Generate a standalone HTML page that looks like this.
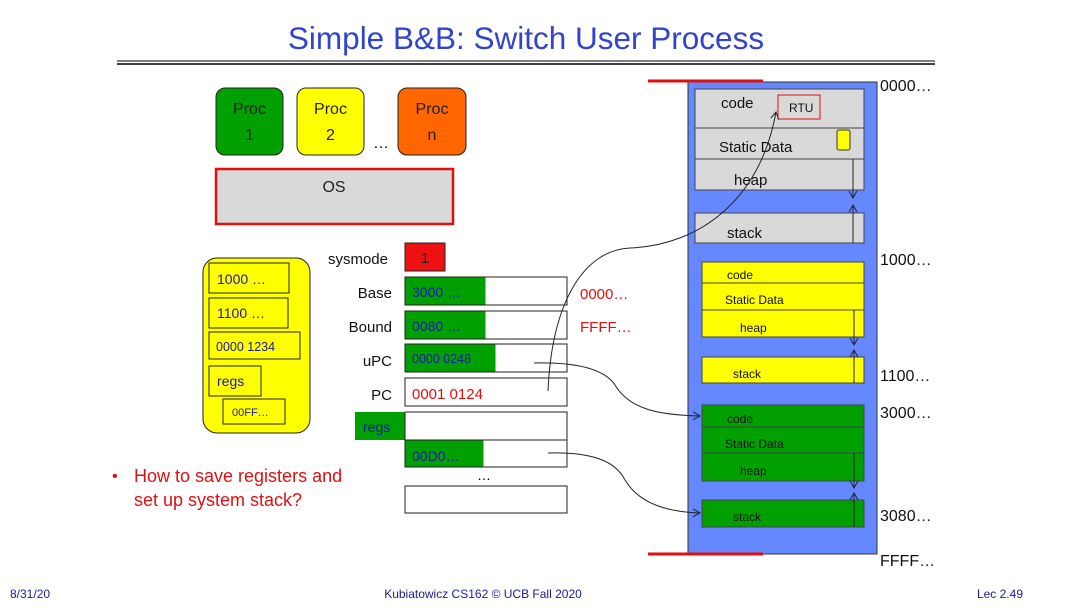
<!DOCTYPE html>
<html><head><meta charset="utf-8"><style>
html,body{margin:0;padding:0;background:#fff}
svg{display:block}
text{font-family:"Liberation Sans",sans-serif}
</style></head><body>
<svg width="1080" height="608" viewBox="0 0 1080 608" xmlns="http://www.w3.org/2000/svg">
<defs><marker id="ah" markerWidth="10" markerHeight="10" refX="8" refY="5" orient="auto" markerUnits="userSpaceOnUse"><path d="M1,1 L8,5 L1,9" fill="none" stroke="#223" stroke-width="1"/></marker></defs>
<text x="526" y="49" text-anchor="middle" font-size="31.5" fill="#3344cc">Simple B&amp;B: Switch User Process</text>
<line x1="117" y1="61" x2="935" y2="61" stroke="#000" stroke-width="1"/>
<line x1="117" y1="64" x2="935" y2="64" stroke="#000" stroke-width="1.5"/>
<rect x="216" y="88" width="67" height="67" rx="9" fill="#00a000" stroke="#222"/>
<text x="249.5" y="114" text-anchor="middle" font-size="16" fill="#222">Proc</text><text x="249.5" y="140" text-anchor="middle" font-size="16" fill="#222">1</text>
<rect x="297" y="88" width="67" height="67" rx="9" fill="#ffff00" stroke="#222"/>
<text x="330.5" y="114" text-anchor="middle" font-size="16" fill="#222">Proc</text><text x="330.5" y="140" text-anchor="middle" font-size="16" fill="#222">2</text>
<text x="381" y="148" text-anchor="middle" font-size="16">…</text>
<rect x="398" y="88" width="68" height="67" rx="9" fill="#ff6600" stroke="#222"/>
<text x="432" y="114" text-anchor="middle" font-size="16" fill="#222">Proc</text><text x="432" y="140" text-anchor="middle" font-size="16" fill="#222">n</text>
<rect x="216" y="169" width="237" height="55" fill="#d9d9d9" stroke="#e01010" stroke-width="2.5"/>
<text x="334" y="192" text-anchor="middle" font-size="16" fill="#222">OS</text>
<rect x="203" y="258" width="107" height="175" rx="14" fill="#ffff00" stroke="#222"/>
<g font-size="14" fill="#1a1a9a">
<rect x="209" y="263" width="80" height="30" fill="#ffff00" stroke="#222"/><text x="217" y="284">1000 …</text>
<rect x="209" y="298" width="79" height="30" fill="#ffff00" stroke="#222"/><text x="217" y="318">1100 …</text>
<rect x="209" y="332" width="91" height="27" fill="#ffff00" stroke="#222"/><text x="216" y="351" font-size="12.5">0000 1234</text>
<rect x="209" y="366" width="52" height="30" fill="#ffff00" stroke="#222"/><text x="217" y="386">regs</text>
<rect x="223" y="399" width="62" height="25" fill="#ffff00" stroke="#222"/><text x="232" y="416" font-size="11">00FF…</text>
</g>
<g font-size="15" fill="#111" text-anchor="end">
<text x="388" y="264">sysmode</text><text x="392" y="298">Base</text><text x="392" y="332">Bound</text><text x="392" y="366">uPC</text><text x="392" y="400">PC</text>
</g>
<rect x="405" y="243" width="40" height="28" fill="#ee1111" stroke="#222"/>
<text x="425" y="263" text-anchor="middle" font-size="15" fill="#222">1</text>
<rect x="405" y="277" width="162" height="28" fill="#fff" stroke="#222"/><rect x="405.5" y="277.5" width="80" height="27" fill="#00a000"/>
<text x="412" y="297" font-size="14" fill="#1a1aaa">3000 …</text>
<rect x="405" y="311" width="162" height="28" fill="#fff" stroke="#222"/><rect x="405.5" y="311.5" width="80" height="27" fill="#00a000"/>
<text x="412" y="331" font-size="14" fill="#1a1aaa">0080 …</text>
<rect x="405" y="344" width="162" height="28" fill="#fff" stroke="#222"/><rect x="405.5" y="344.5" width="90" height="27" fill="#00a000"/>
<text x="412" y="363" font-size="12.5" fill="#1a1aaa">0000 0248</text>
<rect x="405" y="378" width="162" height="28" fill="#fff" stroke="#222"/>
<text x="412" y="399" font-size="15" fill="#e01010">0001 0124</text>
<rect x="355" y="412" width="50" height="28" fill="#00a000"/>
<text x="363" y="432" font-size="14" fill="#1a1aaa">regs</text>
<rect x="405" y="412" width="162" height="28" fill="#fff" stroke="#222"/>
<rect x="405" y="440" width="162" height="27" fill="#fff" stroke="#222"/><rect x="405.5" y="440.5" width="78" height="26" fill="#00a000"/>
<text x="412" y="461" font-size="14" fill="#1a1aaa">00D0…</text>
<text x="484" y="480" text-anchor="middle" font-size="14">…</text>
<rect x="405" y="486" width="162" height="27" fill="#fff" stroke="#222"/>
<text x="580" y="299" font-size="15" fill="#e01010">0000…</text>
<text x="580" y="332" font-size="15" fill="#e01010">FFFF…</text>
<text x="112" y="481" font-size="16" fill="#e01010">•</text>
<text x="134" y="482" font-size="18" fill="#e01010">How to save registers and</text>
<text x="134" y="506" font-size="18" fill="#e01010">set up system stack?</text>
<rect x="688" y="82" width="189" height="472" fill="#6688ff" stroke="#333"/>
<line x1="648" y1="81" x2="763" y2="81" stroke="#e01010" stroke-width="3"/>
<line x1="648" y1="554" x2="763" y2="554" stroke="#e01010" stroke-width="3"/>
<g stroke="#444" fill="#d9d9d9">
<rect x="695" y="89" width="169" height="39"/><rect x="695" y="128" width="169" height="31"/><rect x="695" y="159" width="169" height="31"/><rect x="695" y="213" width="169" height="30"/>
</g>
<rect x="778" y="95" width="42" height="24" fill="none" stroke="#e01010"/>
<text x="789" y="112" font-size="12" fill="#111">RTU</text>
<rect x="837" y="130" width="13" height="20" rx="2" fill="#ffff00" stroke="#333"/>
<g font-size="15" fill="#111"><text x="721" y="108">code</text><text x="719" y="152">Static Data</text><text x="734" y="185">heap</text><text x="727" y="238">stack</text></g>
<g stroke="#444" fill="#ffff00">
<rect x="702" y="262" width="162" height="21"/><rect x="702" y="283" width="162" height="27"/><rect x="702" y="310" width="162" height="27"/><rect x="702" y="357" width="162" height="26"/>
</g>
<g font-size="12" fill="#111"><text x="727" y="279">code</text><text x="725" y="304">Static Data</text><text x="740" y="332">heap</text><text x="733" y="378">stack</text></g>
<g stroke="#444" fill="#00a000">
<rect x="702" y="405" width="162" height="22"/><rect x="702" y="427" width="162" height="26"/><rect x="702" y="453" width="162" height="28"/><rect x="702" y="500" width="162" height="27"/>
</g>
<g font-size="12" fill="#111"><text x="727" y="423">code</text><text x="725" y="448">Static Data</text><text x="740" y="475">heap</text><text x="733" y="521">stack</text></g>
<g stroke="#223" stroke-width="1" fill="none">
<line x1="853" y1="159" x2="853" y2="198" marker-end="url(#ah)"/><line x1="853" y1="243" x2="853" y2="205" marker-end="url(#ah)"/>
<line x1="854" y1="310" x2="854" y2="345" marker-end="url(#ah)"/><line x1="854" y1="383" x2="854" y2="350" marker-end="url(#ah)"/>
<line x1="854" y1="453" x2="854" y2="488" marker-end="url(#ah)"/><line x1="854" y1="527" x2="854" y2="493" marker-end="url(#ah)"/>
<path d="M548,391 C552,300 585,250 630,248 C700,245 760,200 776,112" marker-end="url(#ah)"/>
<path d="M534,363 C580,362 605,370 615,385 C630,410 660,415 700,416" marker-end="url(#ah)"/>
<path d="M548,453 C590,452 615,460 625,480 C640,505 670,512 700,513" marker-end="url(#ah)"/>
</g>
<g font-size="16" fill="#111"><text x="880" y="91">0000…</text><text x="880" y="265">1000…</text><text x="880" y="381">1100…</text><text x="880" y="418">3000…</text><text x="880" y="521">3080…</text><text x="880" y="566">FFFF…</text></g>
<g font-size="12" fill="#1a1a9a"><text x="10" y="598">8/31/20</text><text x="483" y="598" text-anchor="middle">Kubiatowicz CS162 © UCB Fall 2020</text><text x="1023" y="598" text-anchor="end">Lec 2.49</text></g>
</svg>
</body></html>
